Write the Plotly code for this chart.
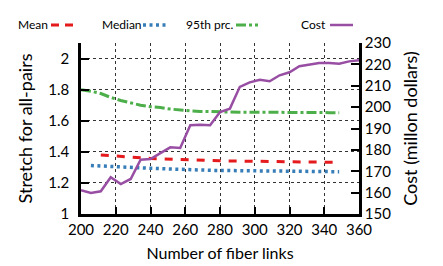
import plotly.graph_objects as go

# ---- data ----
links = [200, 205.7, 211.4, 217.1, 222.9, 228.6, 234.3, 240, 245.7, 251.4, 257.1,
         262.9, 268.6, 274.3, 280, 285.7, 291.4, 297.1, 302.9, 308.6, 314.3, 320,
         325.7, 331.4, 337.1, 342.9, 348.6, 354.3, 360]

cost = [161.1, 159.8, 160.6, 167.2, 164.0, 166.4, 175.4, 175.7, 178.5, 181.2, 180.9,
        191.5, 191.8, 191.5, 197.7, 199.3, 209.5, 211.6, 212.8, 212.1, 214.9, 216.3,
        219.1, 219.8, 220.6, 220.6, 220.3, 221.4, 221.9]

p95_x = links[0:27]
p95 = [1.80, 1.79, 1.775, 1.75, 1.73, 1.715, 1.70, 1.69, 1.685, 1.675, 1.668, 1.663,
       1.66, 1.658, 1.657, 1.656, 1.655, 1.655, 1.654, 1.654, 1.653, 1.653, 1.653,
       1.652, 1.652, 1.652, 1.652]

mean_x = links[2:27]
mean = [1.38, 1.375, 1.37, 1.365, 1.36, 1.357, 1.355, 1.352, 1.35, 1.348, 1.346,
        1.344, 1.342, 1.341, 1.34, 1.338, 1.337, 1.336, 1.335, 1.334, 1.334, 1.333,
        1.333, 1.332, 1.332]

median_x = links[1:27]
median = [1.312, 1.31, 1.307, 1.304, 1.30, 1.297, 1.294, 1.291, 1.289, 1.287, 1.285,
          1.283, 1.281, 1.28, 1.279, 1.278, 1.277, 1.276, 1.275, 1.275, 1.274, 1.274,
          1.273, 1.273, 1.272, 1.272]

x_ticks = [200, 220, 240, 260, 280, 300, 320, 340, 360]
left_ticks = [1, 1.2, 1.4, 1.6, 1.8, 2]
left_labels = ["1", "1.2", "1.4", "1.6", "1.8", "2"]
right_ticks = [150, 160, 170, 180, 190, 200, 210, 220, 230]

RED, BLUE, GREEN, PURPLE = "#e41a1c", "#377eb8", "#4daf4a", "#984ea3"
FONT = "Lato"

W, H = 443, 266
ML, MR, MT, MB = 73, 92, 35, 60
PW, PH = W - ML - MR, H - MT - MB

fig = go.Figure()
fig.add_trace(go.Scatter(x=p95_x, y=p95, mode="lines", name="95th prc.",
                         line=dict(color=GREEN, width=3, dash="10px,3px,3px,3px")))
fig.add_trace(go.Scatter(x=mean_x, y=mean, mode="lines", name="Mean",
                         line=dict(color=RED, width=3, dash="8px,8px")))
fig.add_trace(go.Scatter(x=median_x, y=median, mode="lines", name="Median",
                         line=dict(color=BLUE, width=3.5, dash="3px,3.5px")))
fig.add_trace(go.Scatter(x=links, y=cost, mode="lines", name="Cost", yaxis="y2",
                         line=dict(color=PURPLE, width=2.5)))

def px2paper(x, y):
    return (x - ML) / PW, (H - MB - y) / PH

# manual legend (text left of sample)
legend_items = [("Mean", 8, 43, 66, RED, 3, "8px,6px"),
                ("Median", 92, 135, 158, BLUE, 3.5, "3px,3.5px"),
                ("95th prc.", 176, 228, 250, GREEN, 3, "10px,3px,3px,3px"),
                ("Cost", 291, 322, 345, PURPLE, 2.5, "solid")]
ly = 17
for text, tx, sx0, sx1, col, w, d in legend_items:
    ax, ay = px2paper(tx, ly)
    fig.add_annotation(x=ax, y=ay, xref="paper", yref="paper", text=text,
                       showarrow=False, xanchor="left", yanchor="middle",
                       font=dict(family=FONT, size=12, color="black"))
    x0, y0 = px2paper(sx0, ly)
    x1, _ = px2paper(sx1, ly)
    fig.add_shape(type="line", xref="paper", yref="paper", x0=x0, x1=x1, y0=y0, y1=y0,
                  line=dict(color=col, width=w, dash=d))

fig.update_layout(
    width=W, height=H, margin=dict(l=ML, r=MR, t=MT, b=MB),
    paper_bgcolor="white", plot_bgcolor="white", showlegend=False,
    font=dict(family=FONT, size=14, color="black"),
    xaxis=dict(range=[200, 360], tickvals=x_ticks, ticks="inside", ticklen=7,
               tickwidth=2, tickcolor="black", showline=True, linewidth=2.5,
               linecolor="black", showgrid=True, gridcolor="#333", gridwidth=1,
               griddash="dot", zeroline=False, ticklabelstandoff=0,
               title=dict(text="Number of fiber links", font=dict(size=16), standoff=12),
               tickfont=dict(size=15)),
    yaxis=dict(range=[1, 2.1], tickvals=left_ticks, ticktext=left_labels,
               ticks="inside", ticklen=8, tickwidth=2, tickcolor="black",
               showline=True, linewidth=2.5, linecolor="black", showgrid=True,
               gridcolor="#333", gridwidth=1, griddash="dot", zeroline=False,
               ticklabelstandoff=6,
               title=dict(text="Stretch for all-pairs", font=dict(size=18), standoff=11),
               tickfont=dict(size=15)),
    yaxis2=dict(range=[150, 230], tickvals=right_ticks, overlaying="y", side="right",
                ticks="inside", ticklen=8, tickwidth=2, tickcolor="black",
                showline=True, linewidth=2.5, linecolor="black", showgrid=False,
                zeroline=False,
                title=dict(text="Cost (millon dollars)", font=dict(size=18), standoff=15),
                tickfont=dict(size=15)),
)

fig.write_html("out.html")
